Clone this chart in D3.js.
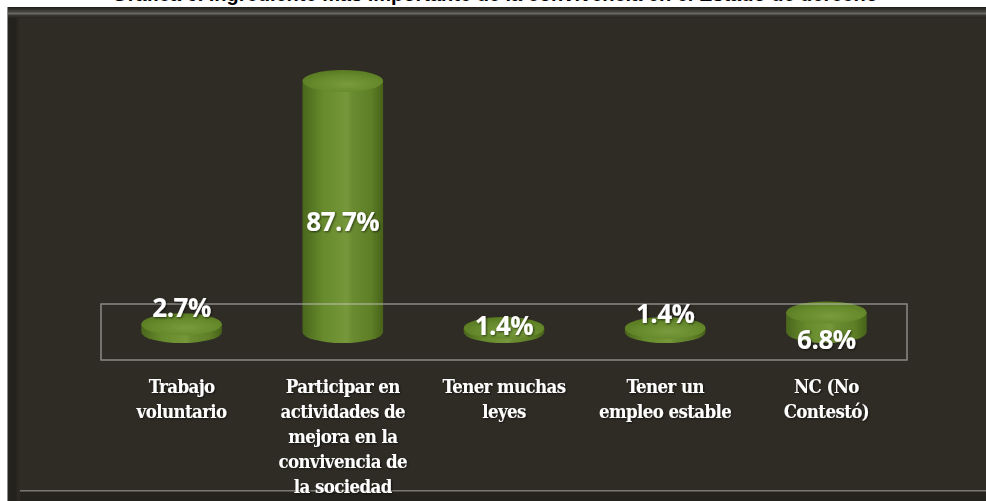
<!DOCTYPE html>
<html><head><meta charset="utf-8">
<script src="https://cdn.jsdelivr.net/npm/d3@7"></script>
<style>
html,body{margin:0;padding:0;background:#fff;overflow:hidden;}
svg{display:block;}
</style></head>
<body>
<svg id="chart" width="986" height="501"></svg>
<script>
// ---- data ----
const titleText = "Gráfica 6. Ingrediente más importante de la convivencia en el Estado de derecho";
const categories = ["Trabajo voluntario", "Participar en actividades de mejora en la convivencia de la sociedad", "Tener muchas leyes", "Tener un empleo estable", "NC (No Contestó)"];
const categoryLines = [
  ["Trabajo", "voluntario"],
  ["Participar en", "actividades de", "mejora en la", "convivencia de", "la sociedad"],
  ["Tener muchas", "leyes"],
  ["Tener un", "empleo estable"],
  ["NC (No", "Contestó)"]
];
const values = [2.7, 87.7, 1.4, 1.4, 6.8];
const valueLabels = ["2.7%", "87.7%", "1.4%", "1.4%", "6.8%"];
// label vertical offsets (layout only, px from bar middle)
const labelOffsets = [-20, 15, -4, -16, 17];

// ---- layout ----
const W = 986, H = 501;
const plot = {x0: 101, x1: 907, y0: 304, y1: 360};
const ry = 11;
const svg = d3.select("#chart");
const defs = svg.append("defs");

// Title (cut off at top, as in the reference)
svg.append("text").attr("x", 495).attr("y", 0.5).attr("text-anchor", "middle")
  .attr("font-family", "Liberation Sans, Arial, sans-serif").attr("font-weight", "bold")
  .attr("font-size", 20).attr("fill", "#000").text(titleText);

// panel
const tb = defs.append("linearGradient").attr("id","topBevel").attr("x1",0).attr("y1",0).attr("x2",0).attr("y2",1);
[[0,"#1e1d18"],[0.45,"#4a4842"],[0.6,"#6e6c66"],[0.75,"#3a3832"],[1,"#25231d"]].forEach(s=>tb.append("stop").attr("offset",s[0]).attr("stop-color",s[1]));
const lb = defs.append("linearGradient").attr("id","leftBevel").attr("x1",0).attr("y1",0).attr("x2",1).attr("y2",0);
[[0,"#6a6862"],[0.1,"#25231d"],[0.6,"#23211b"],[1,"#2f2c25"]].forEach(s=>lb.append("stop").attr("offset",s[0]).attr("stop-color",s[1]));

svg.append("rect").attr("x", 7).attr("y", 7).attr("width", W).attr("height", H).attr("fill", "#2f2c25");
svg.append("rect").attr("x", 7).attr("y", 7).attr("width", 13).attr("height", H).attr("fill", "url(#leftBevel)");
svg.append("rect").attr("x", 7).attr("y", 7).attr("width", W).attr("height", 11).attr("fill", "url(#topBevel)");
svg.append("rect").attr("x", 20).attr("y", 490).attr("width", W).attr("height", 1.5).attr("fill", "#77756e");
svg.append("rect").attr("x", 20).attr("y", 492).attr("width", W).attr("height", 9).attr("fill", "#25231d");
svg.append("line").attr("x1", 7.5).attr("x2", 7.5).attr("y1", 7).attr("y2", H).attr("stroke", "#8a8a86").attr("stroke-width", 1);

// scales
const x = d3.scaleBand().domain(categories).range([plot.x0, plot.x1]).paddingInner(0.5).paddingOuter(0.25);
const y = d3.scaleLinear().domain([0, 90]).range([332, 74.4]);

// gradients for cylinders
const bodyG = defs.append("linearGradient").attr("id","body").attr("x1",0).attr("y1",0).attr("x2",1).attr("y2",0);
[[0,"#4a661c"],[0.25,"#668a2c"],[0.55,"#76973a"],[0.62,"#6a8b30"],[0.85,"#5e7f26"],[1,"#476219"]].forEach(s=>bodyG.append("stop").attr("offset",s[0]).attr("stop-color",s[1]));
const topG = defs.append("radialGradient").attr("id","topE").attr("cx",0.55).attr("cy",0.65).attr("r",0.65);
[[0,"#7a9a3e"],[0.6,"#668a2c"],[1,"#5a7a22"]].forEach(s=>topG.append("stop").attr("offset",s[0]).attr("stop-color",s[1]));

const shadow = defs.append("filter").attr("id","ts").attr("x","-20%").attr("y","-20%").attr("width","140%").attr("height","140%");
shadow.append("feDropShadow").attr("dx",1).attr("dy",1).attr("stdDeviation",1).attr("flood-color","#000").attr("flood-opacity",0.6);

const bars = svg.append("g").selectAll("g").data(values).join("g");
bars.each(function(v, i) {
  const g = d3.select(this);
  const cx = x(categories[i]) + x.bandwidth() / 2;
  const rx = x.bandwidth() / 2;
  const yb = y(0), yt = y(v);
  g.append("path")
    .attr("d", `M${cx-rx},${yt} L${cx-rx},${yb} A${rx},${ry} 0 0 0 ${cx+rx},${yb} L${cx+rx},${yt} Z`)
    .attr("fill", "url(#body)");
  g.append("ellipse").attr("cx", cx).attr("cy", yt).attr("rx", rx).attr("ry", ry).attr("fill", "url(#topE)");
});

// floor / plot frame
svg.append("rect").attr("x", plot.x0).attr("y", plot.y0).attr("width", plot.x1 - plot.x0).attr("height", plot.y1 - plot.y0)
  .attr("fill", "none").attr("stroke", "#c8c8c8").attr("stroke-opacity", 0.6).attr("stroke-width", 1.5);

// value labels
svg.append("g").selectAll("text").data(values).join("text")
  .attr("x", (d, i) => x(categories[i]) + x.bandwidth() / 2)
  .attr("y", (d, i) => (y(0) + y(d)) / 2 + labelOffsets[i])
  .attr("dy", "0.36em")
  .attr("text-anchor", "middle")
  .attr("font-family", "Open Sans, sans-serif").attr("font-weight", "bold").attr("font-size", 26)
  .attr("letter-spacing", -0.5)
  .attr("fill", "#fff").attr("filter", "url(#ts)")
  .text((d, i) => valueLabels[i]);

// category labels
const cat = svg.append("g").selectAll("text").data(categories).join("text")
  .attr("x", d => x(d) + x.bandwidth() / 2)
  .attr("y", 393)
  .attr("text-anchor", "middle")
  .attr("font-family", "DejaVu Serif Condensed, DejaVu Serif, serif").attr("font-weight", "bold").attr("font-size", 18.5)
  .attr("letter-spacing", -0.6)
  .attr("fill", "#fff").attr("filter", "url(#ts)");
cat.each(function(d, i) {
  const t = d3.select(this);
  categoryLines[i].forEach((ln, j) => {
    t.append("tspan").attr("x", x(d) + x.bandwidth() / 2).attr("dy", j === 0 ? 0 : 25).text(ln);
  });
});
</script>
</body></html>
